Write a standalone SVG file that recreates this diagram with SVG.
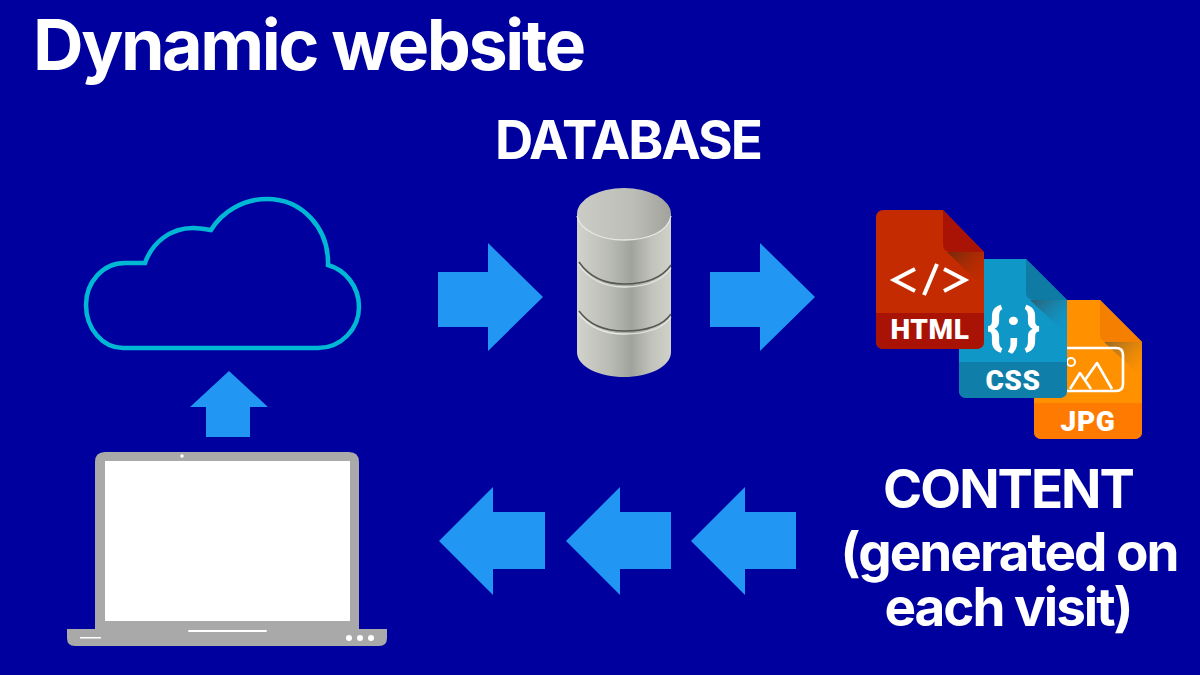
<svg xmlns="http://www.w3.org/2000/svg" width="1200" height="675" viewBox="0 0 1200 675">
<style>
.t{font-family:Inter,"Liberation Sans",sans-serif;font-weight:700;fill:#fff}
.h{font-size:70px;letter-spacing:-2.4px}
.l{font-size:53px;text-anchor:middle;letter-spacing:-2px}
.f{font-family:Roboto,"Liberation Sans",sans-serif;font-weight:900;fill:#fff;text-anchor:middle;font-size:28px;letter-spacing:.6px}
.a{fill:#2196f3}
.w{fill:#fff}
.g{fill:#a9a9a9}
.ln{fill:none;stroke:#fff;stroke-width:2.6;stroke-linejoin:round}
.dk{fill:none;stroke:#555753;stroke-width:1.5}
.lt{fill:none;stroke:#e6e7e1;stroke-width:1.3}
</style>
<defs>
<linearGradient id="cyl" x1="0" x2="1" y1="0" y2="0">
<stop offset="0" stop-color="#d2d3cb"/><stop offset=".35" stop-color="#b9bbb5"/><stop offset=".58" stop-color="#a0a29d"/><stop offset=".8" stop-color="#c2c4bc"/><stop offset="1" stop-color="#d0d1c9"/>
</linearGradient>
<linearGradient id="top" x1="0" x2="1" y1="0" y2="0">
<stop offset="0" stop-color="#cbccc5"/><stop offset=".6" stop-color="#bcbdb6"/><stop offset="1" stop-color="#a0a29b"/>
</linearGradient>
<linearGradient id="sh1" x1="0" y1="0" x2="1" y2="1"><stop offset="0" stop-color="#5a2a10" stop-opacity=".8"/><stop offset="1" stop-color="#c42b00" stop-opacity="0"/></linearGradient>
<linearGradient id="sh2" x1="0" y1="0" x2="1" y2="1"><stop offset="0" stop-color="#33505c" stop-opacity=".8"/><stop offset="1" stop-color="#0f97c8" stop-opacity="0"/></linearGradient>
<linearGradient id="sh3" x1="0" y1="0" x2="1" y2="1"><stop offset="0" stop-color="#7a6030" stop-opacity=".85"/><stop offset="1" stop-color="#ff9000" stop-opacity="0"/></linearGradient>
</defs>
<rect width="1200" height="675" fill="#00009f"/>
<g id="title"><text class="t h" x="33" y="70">Dynamic website</text></g>
<g id="cloud"><path d="M123 348H318C341 348 359 329 359 307C359 286 345 270 328 265C329 228 302 199 267 199C243 199 222 212 211 230C205 229 200 228 193 228C170 228 152 243 145 263L125 263C103 263 86 282 86 305C86 329 103 348 123 348Z" fill="none" stroke="#00b8d4" stroke-width="4.5"/></g>
<g id="database">
<text class="t l" x="628" y="159">DATABASE</text>
<path d="M577 214V352C577 367 600 377 624 377C648 377 671 367 671 352V214Z" fill="url(#cyl)"/>
<ellipse cx="624" cy="214" rx="47" ry="26" fill="url(#top)"/>
<path d="M577 216C580 230 600 240 624 240C648 240 668 232 671 216" class="lt"/>
<path d="M579 262C590 278 606 284 624 284C645 284 662 278 671 265" class="dk"/>
<path d="M578 264C590 281 606 287 624 287C645 287 662 281 671 268" class="lt"/>
<path d="M579 311C590 326 606 331 624 331C645 331 662 327 671 314" class="dk"/>
<path d="M578 313C590 329 606 334 624 334C645 334 662 330 671 317" class="lt"/>
</g>
<g id="jpg-file">
<path d="M1042 300H1100L1142 342V431Q1142 439 1134 439H1042Q1034 439 1034 431V308Q1034 300 1042 300Z" fill="#ff9100"/>
<path d="M1034 403H1142V431Q1142 439 1134 439H1042Q1034 439 1034 431Z" fill="#ff7a00"/>
<path d="M1100 300L1142 342H1108Q1100 342 1100 334Z" fill="#f47f00"/>
<path d="M1104 342H1142V378Z" fill="url(#sh3)"/>
<path d="M1067 348H1116Q1123 348 1123 355V384Q1123 391 1116 391H1067" class="ln"/>
<circle cx="1071" cy="362" r="4" fill="none" stroke="#fff" stroke-width="2"/>
<path d="M1070 389L1080 373L1091 389M1085 380L1097 363L1112 389" class="ln"/>
<text class="f" x="1088" y="431">JPG</text>
</g>
<g id="css-file">
<path d="M967 259H1026L1067 300V390Q1067 398 1059 398H967Q959 398 959 390V267Q959 259 967 259Z" fill="#0f97c8"/>
<path d="M959 362H1067V390Q1067 398 1059 398H967Q959 398 959 390Z" fill="#0f7ea8"/>
<path d="M1026 259L1067 300H1034Q1026 300 1026 292Z" fill="#0d7ba3"/>
<path d="M1030 300H1067V335Z" fill="url(#sh2)"/>
<text class="f" x="1015" y="344" style="font-size:50px;letter-spacing:3px">{;}</text>
<text class="f" x="1013" y="390">CSS</text>
</g>
<g id="html-file">
<path d="M884 210H943L984 252V341Q984 349 976 349H884Q876 349 876 341V218Q876 210 884 210Z" fill="#c42b00"/>
<path d="M876 313H984V341Q984 349 976 349H884Q876 349 876 341Z" fill="#a81306"/>
<path d="M943 210L984 252H951Q943 252 943 244Z" fill="#a81306"/>
<path d="M947 252H984V288Z" fill="url(#sh1)"/>
<path d="M915 269L894 280L915 291M944 269L965 280L944 291M937 264L924 295" fill="none" stroke="#fff" stroke-width="4"/>
<text class="f" x="930" y="339">HTML</text>
</g>
<g id="laptop">
<path d="M105 452H349Q359 452 359 462V629H387V638Q387 646 379 646H75Q67 646 67 638V629H95V462Q95 452 105 452Z" class="g"/>
<rect class="w" x="105" y="461" width="245" height="160"/>
<circle class="w" cx="182" cy="456" r="1.7"/>
<rect class="w" x="188" y="630" width="79" height="2" rx="1"/>
<rect class="w" x="80" y="637" width="21" height="1.5"/>
<circle class="w" cx="349" cy="638" r="3"/><circle class="w" cx="360" cy="638" r="3"/><circle class="w" cx="371" cy="638" r="3"/>
</g>
<g id="content-label">
<text class="t l" x="1008" y="508">CONTENT</text>
<text class="t l" x="1009" y="571">(generated on</text>
<text class="t l" x="1008" y="626">each visit)</text>
</g>
<g id="connectors">
<path class="a" d="M438 272H488V243L543 297L488 351V327H438Z"/>
<path class="a" d="M710 272H760V243L815 297L760 351V327H710Z"/>
<path class="a" d="M229 371L268 407H250V437H206V407H190Z"/>
<path class="a" d="M545 512H493V487L439 541L493 595V569H545Z"/>
<path class="a" d="M671 512H620V487L566 541L620 595V569H671Z"/>
<path class="a" d="M796 512H745V487L691 541L745 595V569H796Z"/>
</g>
</svg>
